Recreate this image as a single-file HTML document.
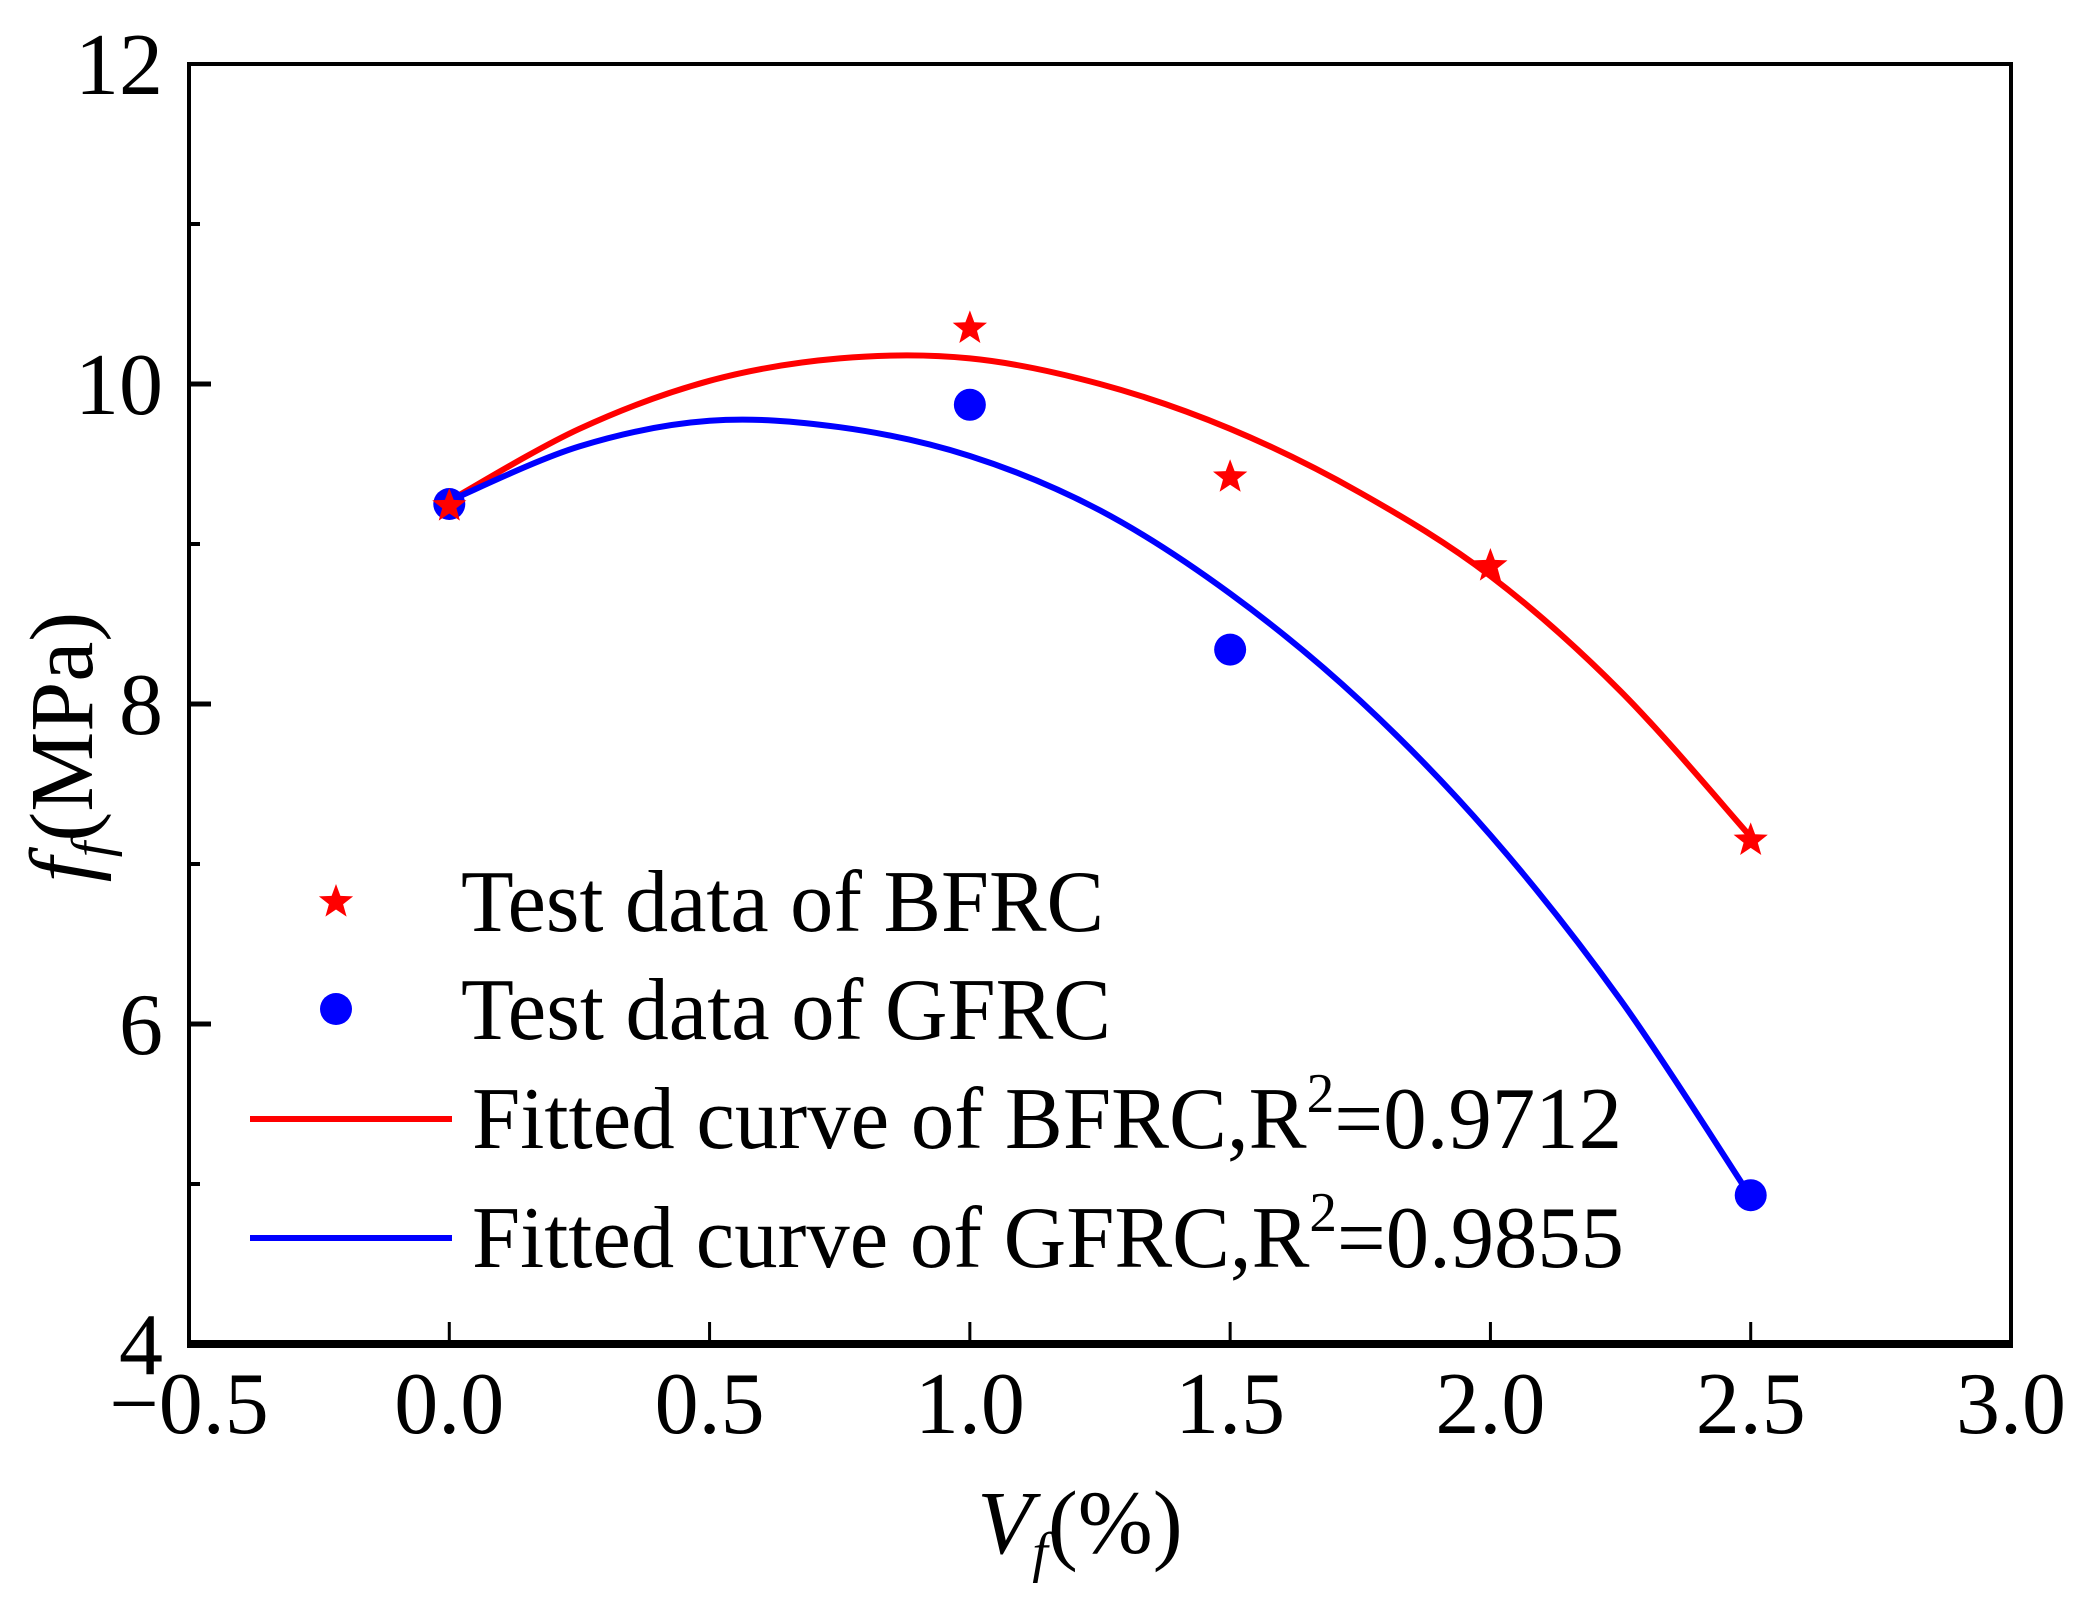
<!DOCTYPE html>
<html><head><meta charset="utf-8"><style>
html,body{margin:0;padding:0;background:#fff;}
svg{display:block;font-family:"Liberation Serif",serif;}
</style></head><body>
<svg id="chart" width="2091" height="1619" viewBox="0 0 2091 1619" xmlns="http://www.w3.org/2000/svg">
<g id="curves"></g>
<g id="marks"></g>
<rect x="189" y="64" width="1822" height="1280" fill="none" stroke="#000" stroke-width="4"/>
<line x1="187" y1="1344" x2="2013" y2="1344" stroke="#000" stroke-width="8"/>
<g id="ticks"></g>
<g id="legend">
  <text x="461" y="931" font-size="88" textLength="643" lengthAdjust="spacingAndGlyphs">Test data of BFRC</text>
  <text x="461" y="1039" font-size="88" textLength="650" lengthAdjust="spacingAndGlyphs">Test data of GFRC</text>
  <line x1="250" y1="1119" x2="452" y2="1119" stroke="#ff0000" stroke-width="6"/>
  <text x="472" y="1148" font-size="88" textLength="1150" lengthAdjust="spacingAndGlyphs">Fitted curve of BFRC,R<tspan font-size="56" dy="-36">2</tspan><tspan dy="36">=0.9712</tspan></text>
  <line x1="250" y1="1238" x2="452" y2="1238" stroke="#0000ff" stroke-width="6"/>
  <text x="472" y="1267" font-size="88" textLength="1152" lengthAdjust="spacingAndGlyphs">Fitted curve of GFRC,R<tspan font-size="56" dy="-36">2</tspan><tspan dy="36">=0.9855</tspan></text>
</g>
<text x="1080" y="1553" font-size="90" text-anchor="middle"><tspan font-style="italic">V</tspan><tspan font-style="italic" font-size="56" dy="18">f</tspan><tspan dy="-18">(%)</tspan></text>
<text transform="translate(92,747) rotate(-90)" font-size="90" text-anchor="middle"><tspan font-style="italic">f</tspan><tspan font-style="italic" font-size="56" dy="18">f</tspan><tspan dy="-18">(MPa)</tspan></text>
</svg>
<script>
const xTicks = [-0.5, 0, 0.5, 1.0, 1.5, 2.0, 2.5, 3.0];
const xTickLabels = ["\u22120.5", "0.0", "0.5", "1.0", "1.5", "2.0", "2.5", "3.0"];
const yTicks = [4, 6, 8, 10, 12];
const yTickLabels = ["4", "6", "8", "10", "12"];
const yMinorTicks = [5, 7, 9, 11];
const bfrcX = [0, 1.0, 1.5, 2.0, 2.5];
const bfrcY = [9.25, 10.36, 9.43, 8.875, 7.16];
const gfrcX = [0, 1.0, 1.5, 2.5];
const gfrcY = [9.25, 9.87, 8.34, 4.93];
const fitX = [0, 0.25, 0.5, 0.75, 1.0, 1.25, 1.5, 1.75, 2.0, 2.25, 2.5];
const bfrcFitY = [9.27, 9.72, 10.02, 10.16, 10.16, 10.00, 9.72, 9.32, 8.80, 8.08, 7.17];
const gfrcFitY = [9.27, 9.61, 9.77, 9.73, 9.55, 9.21, 8.69, 8.02, 7.18, 6.15, 4.92];

const NS = "http://www.w3.org/2000/svg";
const L = 189, R = 2011, T = 64, B = 1344;
const xs = v => L + (v + 0.5) / 3.5 * (R - L);
const ys = v => B - (v - 4) / 8 * (B - T);
function mk(tag, attrs, parent) {
  const e = document.createElementNS(NS, tag);
  for (const k in attrs) e.setAttribute(k, attrs[k]);
  parent.appendChild(e);
  return e;
}
const ticks = document.getElementById('ticks');
xTicks.forEach((v, i) => {
  if (i > 0 && i < xTicks.length - 1) {
    const t = mk('line', {x1: xs(v), x2: xs(v), y1: B, y2: B - 22, stroke: '#000', 'stroke-width': 3}, ticks);
    
    
  }
  const lb = mk('text', {x: xs(v), y: 1433, 'font-size': 88, 'text-anchor': 'middle'}, ticks);
  lb.textContent = xTickLabels[i];
  
  
});
yTicks.forEach((v, i) => {
  if (v > 4 && v < 12) {
    const t = mk('line', {x1: L, x2: L + 22, y1: ys(v), y2: ys(v), stroke: '#000', 'stroke-width': 5}, ticks);
    
    
  }
  const lb = mk('text', {x: 163, y: ys(v) + 30, 'font-size': 88, 'text-anchor': 'end'}, ticks);
  lb.textContent = yTickLabels[i];
  
  
});
yMinorTicks.forEach(v => {
  const t = mk('line', {x1: L, x2: L + 11, y1: ys(v), y2: ys(v), stroke: '#000', 'stroke-width': 4}, ticks);
  
  
});
function smoothPath(xv, yv) {
  const p = xv.map((x, i) => [xs(x), ys(yv[i])]);
  let d = `M${p[0][0]},${p[0][1]}`;
  for (let i = 0; i < p.length - 1; i++) {
    const p0 = p[Math.max(0, i - 1)], p1 = p[i], p2 = p[i + 1], p3 = p[Math.min(p.length - 1, i + 2)];
    const c1 = [p1[0] + (p2[0] - p0[0]) / 6, p1[1] + (p2[1] - p0[1]) / 6];
    const c2 = [p2[0] - (p3[0] - p1[0]) / 6, p2[1] - (p3[1] - p1[1]) / 6];
    d += ` C${c1[0]},${c1[1]} ${c2[0]},${c2[1]} ${p2[0]},${p2[1]}`;
  }
  return d;
}
const curves = document.getElementById('curves');
const rc = mk('path', {d: smoothPath(fitX, bfrcFitY), fill: 'none', stroke: '#ff0000', 'stroke-width': 6}, curves);


const bc = mk('path', {d: smoothPath(fitX, gfrcFitY), fill: 'none', stroke: '#0000ff', 'stroke-width': 6}, curves);


function starPts(cx, cy, ro, ri) {
  const pts = [];
  for (let k = 0; k < 10; k++) {
    const a = -Math.PI / 2 + k * Math.PI / 5;
    const r = k % 2 ? ri : ro;
    pts.push((cx + r * Math.cos(a)).toFixed(1) + ',' + (cy + r * Math.sin(a)).toFixed(1));
  }
  return pts.join(' ');
}
const marks = document.getElementById('marks');
gfrcX.forEach((x, i) => {
  const c = mk('circle', {cx: xs(x), cy: ys(gfrcY[i]), r: 16, fill: '#0000ff'}, marks);
  
  
});
bfrcX.forEach((x, i) => {
  const s = mk('polygon', {points: starPts(xs(x), ys(bfrcY[i]) + 2, 18, 7.5), fill: '#ff0000'}, marks);
  
  
});
const leg = document.getElementById('legend');
const ls = mk('polygon', {points: starPts(336, 902, 18, 7.5), fill: '#ff0000'}, leg);


const lc = mk('circle', {cx: 336, cy: 1009, r: 16, fill: '#0000ff'}, leg);


</script>
</body></html>
